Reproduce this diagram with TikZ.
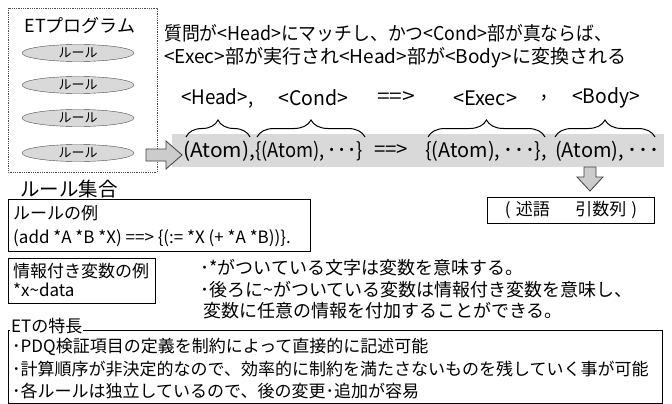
\documentclass[tikz,border=0pt]{standalone}
\usepackage{fontspec}
\usepackage{graphicx}
\setmainfont{Noto Sans CJK JP}
\usetikzlibrary{decorations.pathreplacing,shapes.geometric}
\newcommand\mdots{\hspace{0.15em}･\hspace{0.05em}･\hspace{0.05em}･}
\newcommand\fitw[2]{\resizebox{#1}{\height}{#2}}
\begin{document}
\begin{tikzpicture}[x=1pt,y=-1pt,
  fbig/.style={font=\fontsize{19}{21}\selectfont},
  fmid/.style={font=\fontsize{17}{19}\selectfont},
  flab/.style={font=\fontsize{20}{22}\selectfont},
  fnote/.style={font=\fontsize{18}{20}\selectfont},
  txt/.style={fmid,inner sep=0,anchor=west},
  lab/.style={flab,inner sep=0,anchor=west},
  rulee/.style={ellipse,draw=gray!60!black,fill=gray!30,minimum width=112,minimum height=17,inner sep=0,font=\fontsize{13}{14}\selectfont},
  brc/.style={decorate,decoration={brace,amplitude=17pt},line width=1pt},
  blockarrow/.style={draw=gray!50!black,fill=gray!40,line width=0.8pt},
  framebox/.style={draw,line width=0.8pt}]
\useasboundingbox (0,0) rectangle (672,404);
\fill[white] (0,0) rectangle (672,404);
% program frame
\draw[densely dotted,gray!60!black,line width=0.8pt] (8,8) rectangle (157,172);
\node[font=\fontsize{18}{20}\selectfont,inner sep=0] (ettitle) at (80,26) {ETプログラム};
\node[rulee] (r1) at (78,53) {ルール};
\node[rulee] (r2) at (78,85) {ルール};
\node[rulee] (r3) at (78,118) {ルール};
\node[rulee] (r4) at (78,153) {ルール};
\node[font=\fontsize{19.5}{21}\selectfont,inner sep=0,anchor=west] (ruleset) at (20,189) {ルール集合};
% header
\node[fbig,inner sep=0,anchor=west] (h1) at (164,33) {\fitw{448pt}{質問が<Head>にマッチし、かつ<Cond>部が真ならば、}};
\node[fbig,inner sep=0,anchor=west] (h2) at (164,58) {\fitw{462pt}{<Exec>部が実行され<Head>部が<Body>に変換される}};
% labels
\node[lab] (lhead) at (181,98) {\fitw{72pt}{<Head>,}};
\node[lab] (lcond) at (278,98) {\fitw{70pt}{<Cond>}};
\node[lab] (larr) at (377,98) {\fitw{38pt}{==>}};
\node[lab] (lexec) at (453,98) {\fitw{64pt}{<Exec>}};
\node[lab] (lcomma) at (541,98) {,};
\node[lab] (lbody) at (572,98) {\fitw{68pt}{<Body>}};
% band
\fill[gray!30] (172,134) rectangle (664,167);
\node[lab] (a1) at (183,151) {\fitw{72pt}{(Atom),}};
\node[lab] (a2) at (255,151) {\fitw{108pt}{\{(Atom),\mdots\}}};
\node[lab] (a3) at (374,151) {\fitw{34pt}{==>}};
\node[lab] (a4) at (425,151) {\fitw{122pt}{\{(Atom),\mdots\},}};
\node[lab] (a5) at (555,151) {\fitw{104pt}{(Atom),\mdots}};
% braces
\draw[brc] (186,137) -- (250,137);
\draw[brc] (257,137) -- (365,137);
\draw[brc] (428,137) -- (545,137);
\draw[brc] (555,137) -- (655,137);
% arrows
\draw[blockarrow] (146,149) -- (166,149) -- (166,141) -- (182,155) -- (166,169) -- (166,161) -- (146,161) -- cycle;
\draw[blockarrow] (584,167) -- (596,167) -- (596,177) -- (603,177) -- (590,191) -- (577,177) -- (584,177) -- cycle;
% predicate box
\node[framebox,fmid,minimum width=167,minimum height=26,inner sep=0] (pred) at (571,210) {(\hspace{0.3em}述語\hspace{1.5em}引数列\hspace{0.3em})};
% rule example
\draw[framebox] (8,199) rectangle (310,251);
\node[txt] (ex1) at (13,213) {ルールの例};
\node[txt] (ex2) at (13,238) {(add *A *B *X) ==> \{(:= *X (+ *A *B))\}.};
% info var
\draw[framebox] (8,258) rectangle (155,303);
\node[txt] (iv1) at (13,271) {情報付き変数の例};
\node[txt] (iv2) at (13,290) {*x\textasciitilde data};
\node[txt,fnote] (n1) at (200,268) {･*がついている文字は変数を意味する。};
\node[txt,fnote] (n2) at (200,290) {･後ろに\textasciitilde がついている変数は情報付き変数を意味し、};
\node[txt,fnote] (n3) at (203,311) {変数に任意の情報を付加することができる。};
% features
\draw[framebox] (8,403) -- (8,330) -- (662,330) -- (662,403) -- cycle;
\node[txt,fill=white,inner sep=1pt] (ft) at (10,326) {ETの特長};
\node[txt] (f1) at (12,347) {･PDQ検証項目の定義を制約によって直接的に記述可能};
\node[txt] (f2) at (12,369) {･計算順序が非決定的なので、効率的に制約を満たさないものを残していく事が可能};
\node[txt] (f3) at (12,391) {･各ルールは独立しているので、後の変更･追加が容易};
\end{tikzpicture}
\end{document}
